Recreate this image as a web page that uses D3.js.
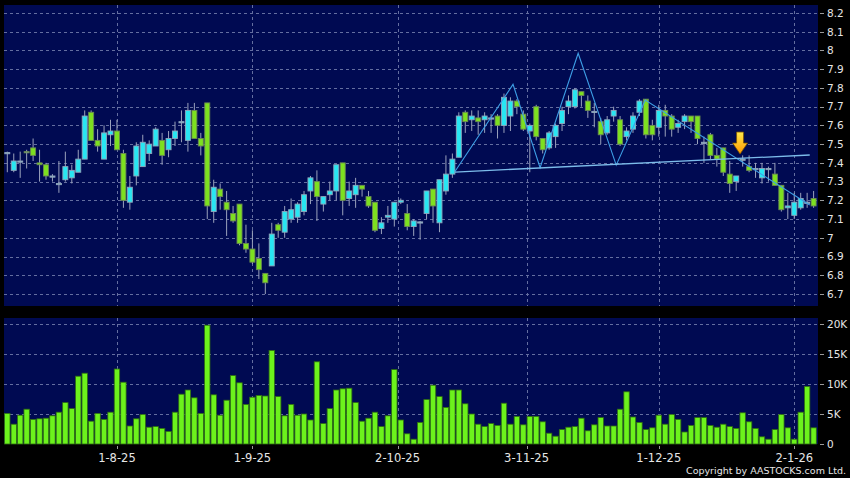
<!DOCTYPE html>
<meta charset="utf-8">
<body>
    <div id="chart"></div>
</body>
<script src="https://cdn.jsdelivr.net/npm/d3@7"></script>
<style>
    body { margin: 0; background: #000; }
    text { font-family: "DejaVu Sans", sans-serif; fill: #e6e6e6; }
</style>
<script>
    // daily bars, oldest first
    var opens = [7.45, 7.36, 7.41, 7.46, 7.48, 7.40, 7.39, 7.33, 7.29, 7.31,
        7.32, 7.35, 7.42, 7.67, 7.52, 7.42, 7.55, 7.57, 7.45, 7.19,
        7.33, 7.38, 7.45, 7.49, 7.52, 7.47, 7.53, 7.615, 7.52, 7.68,
        7.53, 7.72, 7.14, 7.26, 7.19, 7.13, 7.18, 6.97, 6.94, 6.89,
        6.81, 6.85, 7.07, 7.03, 7.10, 7.11, 7.14, 7.25, 7.30, 7.18,
        7.23, 7.25, 7.40, 7.21, 7.23, 7.28, 7.22, 7.19, 7.05, 7.11,
        7.10, 7.19, 7.13, 7.06, 7.08, 7.13, 7.26, 7.08, 7.25, 7.34,
        7.43, 7.67, 7.63, 7.64, 7.63, 7.64, 7.65, 7.60, 7.65, 7.73,
        7.66, 7.57, 7.70, 7.53, 7.48, 7.54, 7.61, 7.70, 7.70, 7.78,
        7.73, 7.67, 7.62, 7.56, 7.65, 7.63, 7.54, 7.58, 7.67, 7.74,
        7.60, 7.59, 7.68, 7.65, 7.59, 7.62, 7.65, 7.65, 7.51, 7.55,
        7.44, 7.48, 7.34, 7.30, 7.42, 7.38, 7.37, 7.32, 7.37, 7.34,
        7.28, 7.16, 7.12, 7.16, 7.19, 7.21];
    var highs = [7.46, 7.45, 7.46, 7.47, 7.53, 7.47, 7.40, 7.34, 7.41, 7.46,
        7.39, 7.47, 7.68, 7.68, 7.58, 7.60, 7.63, 7.63, 7.47, 7.33,
        7.51, 7.55, 7.52, 7.59, 7.56, 7.57, 7.62, 7.68, 7.72, 7.72,
        7.56, 7.72, 7.31, 7.29, 7.25, 7.17, 7.18, 7.07, 7.04, 6.97,
        6.81, 7.08, 7.08, 7.17, 7.21, 7.19, 7.25, 7.33, 7.36, 7.22,
        7.30, 7.39, 7.40, 7.30, 7.32, 7.28, 7.25, 7.19, 7.11, 7.17,
        7.19, 7.21, 7.18, 7.10, 7.09, 7.25, 7.26, 7.31, 7.44, 7.45,
        7.67, 7.68, 7.68, 7.68, 7.67, 7.66, 7.66, 7.77, 7.75, 7.74,
        7.68, 7.61, 7.71, 7.53, 7.57, 7.61, 7.70, 7.76, 7.80, 7.78,
        7.76, 7.72, 7.64, 7.65, 7.70, 7.65, 7.59, 7.67, 7.74, 7.74,
        7.63, 7.71, 7.71, 7.66, 7.63, 7.66, 7.65, 7.65, 7.54, 7.56,
        7.48, 7.48, 7.41, 7.33, 7.44, 7.44, 7.40, 7.40, 7.38, 7.40,
        7.28, 7.24, 7.24, 7.24, 7.24, 7.25];
    var lows = [7.35, 7.35, 7.32, 7.37, 7.41, 7.30, 7.31, 7.30, 7.24, 7.30,
        7.29, 7.35, 7.42, 7.52, 7.46, 7.42, 7.49, 7.47, 7.16, 7.15,
        7.28, 7.38, 7.41, 7.49, 7.39, 7.43, 7.49, 7.51, 7.46, 7.53,
        7.44, 7.10, 7.08, 7.15, 7.01, 7.08, 6.96, 6.92, 6.86, 6.78,
        6.70, 6.85, 7.00, 7.00, 7.08, 7.08, 7.12, 7.18, 7.09, 7.14,
        7.20, 7.20, 7.12, 7.17, 7.16, 7.22, 7.16, 7.03, 7.02, 7.08,
        7.06, 7.18, 7.04, 7.01, 6.99, 7.10, 7.08, 7.03, 7.23, 7.32,
        7.43, 7.56, 7.57, 7.55, 7.56, 7.56, 7.53, 7.56, 7.57, 7.66,
        7.57, 7.35, 7.52, 7.45, 7.47, 7.48, 7.57, 7.66, 7.69, 7.70,
        7.64, 7.59, 7.50, 7.55, 7.62, 7.49, 7.52, 7.56, 7.65, 7.53,
        7.52, 7.54, 7.54, 7.54, 7.56, 7.58, 7.56, 7.50, 7.40, 7.42,
        7.38, 7.33, 7.24, 7.25, 7.38, 7.35, 7.32, 7.29, 7.30, 7.28,
        7.14, 7.10, 7.10, 7.15, 7.16, 7.16];
    var closes = [7.455, 7.41, 7.41, 7.455, 7.44, 7.39, 7.33, 7.33, 7.29, 7.38,
        7.36, 7.42, 7.65, 7.52, 7.49, 7.56, 7.57, 7.47, 7.20, 7.27,
        7.49, 7.51, 7.50, 7.58, 7.44, 7.53, 7.57, 7.62, 7.68, 7.53,
        7.49, 7.17, 7.27, 7.22, 7.15, 7.09, 6.97, 6.94, 6.87, 6.83,
        6.76, 7.02, 7.04, 7.14, 7.15, 7.18, 7.23, 7.32, 7.22, 7.22,
        7.25, 7.39, 7.20, 7.25, 7.28, 7.26, 7.17, 7.04, 7.08, 7.12,
        7.19, 7.20, 7.06, 7.09, 7.085, 7.25, 7.17, 7.31, 7.34, 7.42,
        7.65, 7.62, 7.65, 7.62, 7.65, 7.64, 7.60, 7.75, 7.73, 7.70,
        7.58, 7.60, 7.54, 7.47, 7.56, 7.60, 7.68, 7.73, 7.79, 7.76,
        7.68, 7.675, 7.55, 7.63, 7.68, 7.50, 7.57, 7.65, 7.73, 7.55,
        7.55, 7.68, 7.65, 7.58, 7.61, 7.65, 7.62, 7.53, 7.51, 7.44,
        7.42, 7.35, 7.29, 7.33, 7.42, 7.36, 7.37, 7.37, 7.37, 7.28,
        7.15, 7.17, 7.19, 7.21, 7.19, 7.17];
    // volume in thousands of shares
    var volumes = [5.1, 3.3, 4.8, 5.8, 4.1, 4.2, 4.3, 4.7, 5.3, 6.9,
        5.9, 11.3, 11.8, 3.8, 5.1, 4.1, 5.3, 12.5, 10.3, 3.0,
        4.2, 4.9, 2.8, 2.9, 2.6, 2.1, 5.3, 8.3, 9.0, 7.7,
        5.1, 19.8, 8.2, 4.8, 7.3, 11.4, 10.2, 6.6, 7.8, 8.1,
        8.0, 15.6, 7.9, 4.7, 6.6, 4.8, 5.0, 4.0, 13.7, 3.4,
        5.9, 9.0, 9.2, 9.3, 6.9, 3.8, 4.3, 5.3, 2.9, 4.7,
        12.4, 4.0, 1.7, 0.8, 3.6, 7.4, 9.8, 7.9, 6.1, 9.0,
        9.0, 6.7, 5.0, 3.3, 2.9, 3.4, 3.1, 6.8, 3.3, 4.6,
        3.2, 4.6, 4.6, 3.7, 1.8, 1.3, 2.4, 2.8, 2.9, 4.3,
        2.2, 3.2, 4.4, 3.0, 3.0, 5.8, 8.7, 4.5, 3.6, 2.4,
        2.7, 4.8, 3.3, 4.9, 4.1, 2.0, 3.1, 4.4, 4.4, 3.1,
        2.8, 3.3, 2.9, 2.6, 5.2, 3.7, 2.6, 1.2, 0.8, 2.4,
        4.9, 2.7, 0.8, 5.3, 9.6, 2.7];

    var dateTicks = [17, 38, 60.5, 80.5, 101, 122];   // bar position of each date label
    var dateLabels = ["1-8-25", "1-9-25", "2-10-25", "3-11-25", "1-12-25", "2-1-26"];
    var priceTicks = [6.7, 6.8, 6.9, 7, 7.1, 7.2, 7.3, 7.4, 7.5, 7.6, 7.7, 7.8, 7.9, 8, 8.1, 8.2];
    var volTicks = [0, 5, 10, 15, 20];
    var volLabels = ["0", "5K", "10K", "15K", "20K"];

    // drawn pattern lines: [bar position, price]
    var zigzag = [[69.4, 7.354], [78.4, 7.819], [82.6, 7.374], [88.5, 7.985],
        [94.4, 7.388], [98.9, 7.735], [124.4, 7.175]];
    var neckline = [[69.4, 7.351], [124.4, 7.442]];
    var arrowAt = [113.6, 7.447];

    var width = 850,
        height = 478;
    var left = 4, right = 818;

    var svg = d3.select("#chart")
        .append("svg")
            .attr("width", width)
            .attr("height", height)
            .style("background", "#000");

    var x = d3.scaleLinear().domain([0, closes.length - 1]).range([7.3, 813.6]);
    var y = d3.scaleLinear().domain([6.7, 8.2]).range([294, 13]);
    var yv = d3.scaleLinear().domain([0, 20]).range([444, 324]);

    var panelColor = "#000a52";
    var gridColor = "#646ea0";

    // panels
    svg.append("rect").attr("x", left).attr("y", 5)
        .attr("width", right - left).attr("height", 301).attr("fill", panelColor);
    svg.append("rect").attr("x", left).attr("y", 318)
        .attr("width", right - left).attr("height", 126).attr("fill", panelColor);

    var grid = svg.append("g")
        .attr("stroke", gridColor)
        .attr("stroke-width", 1)
        .attr("stroke-dasharray", "3,3");

    grid.selectAll(".hp").data(priceTicks).enter().append("line")
        .attr("x1", left).attr("x2", right)
        .attr("y1", function(d) { return Math.round(y(d)) + 0.5; })
        .attr("y2", function(d) { return Math.round(y(d)) + 0.5; });

    grid.selectAll(".hv").data(volTicks.slice(1)).enter().append("line")
        .attr("x1", left).attr("x2", right)
        .attr("y1", function(d) { return Math.round(yv(d)) + 0.5; })
        .attr("y2", function(d) { return Math.round(yv(d)) + 0.5; });

    grid.selectAll(".vp").data(dateTicks).enter().append("line")
        .attr("x1", function(d) { return Math.round(x(d)) + 0.5; })
        .attr("x2", function(d) { return Math.round(x(d)) + 0.5; })
        .attr("y1", 5).attr("y2", 306);

    grid.selectAll(".vv").data(dateTicks).enter().append("line")
        .attr("x1", function(d) { return Math.round(x(d)) + 0.5; })
        .attr("x2", function(d) { return Math.round(x(d)) + 0.5; })
        .attr("y1", 318).attr("y2", 444);

    // volume bars
    svg.append("g").selectAll("rect")
        .data(volumes).enter().append("rect")
            .attr("x", function(d, i) { return x(i) - 2.7; })
            .attr("y", function(d) { return yv(d); })
            .attr("width", 5.4)
            .attr("height", function(d) { return yv(0) - yv(d); })
            .attr("fill", "#6cf21c")
            .attr("stroke", "#2f6e12")
            .attr("stroke-width", 0.8);

    // candles
    var candles = svg.append("g").selectAll("g")
        .data(closes).enter().append("g");

    candles.append("line")
        .attr("x1", function(d, i) { return x(i); })
        .attr("x2", function(d, i) { return x(i); })
        .attr("y1", function(d, i) { return y(highs[i]); })
        .attr("y2", function(d, i) { return y(lows[i]); })
        .attr("stroke", "#9aa2bc")
        .attr("stroke-width", 1);

    candles.append("rect")
        .attr("x", function(d, i) { return x(i) - 2.5; })
        .attr("y", function(d, i) { return y(Math.max(opens[i], d)); })
        .attr("width", 5)
        .attr("height", function(d, i) { return Math.max(1.2, Math.abs(y(opens[i]) - y(d))); })
        .attr("fill", function(d, i) {
            if (Math.abs(d - opens[i]) < 0.006) { return "#8fb0c8"; }
            return d > opens[i] ? "#28e6f2" : "#7de020";
        })
        .attr("stroke", function(d, i) { return d >= opens[i] ? "#8fa6bc" : "#6a8a52"; })
        .attr("stroke-width", 0.9);

    // pattern lines
    var line = d3.line()
        .x(function(d) { return x(d[0]); })
        .y(function(d) { return y(d[1]); });

    svg.append("path").datum(zigzag)
        .attr("d", line).attr("fill", "none")
        .attr("stroke", "#3d9fe6").attr("stroke-width", 1.1);

    svg.append("path").datum(neckline)
        .attr("d", line).attr("fill", "none")
        .attr("stroke", "#7cbcea").attr("stroke-width", 1.3);

    // arrow
    var grad = svg.append("defs").append("linearGradient")
        .attr("id", "arrowGrad").attr("x1", 0).attr("y1", 0).attr("x2", 0).attr("y2", 1);
    grad.append("stop").attr("offset", "0%").attr("stop-color", "#ffe84a");
    grad.append("stop").attr("offset", "100%").attr("stop-color", "#ff9800");

    svg.append("path")
        .attr("transform", "translate(" + x(arrowAt[0]) + "," + y(arrowAt[1]) + ")")
        .attr("d", "M-3.5,-22 L3.5,-22 L3.5,-11 L7.5,-11 L0,0 L-7.5,-11 L-3.5,-11 Z")
        .attr("fill", "url(#arrowGrad)")
        .attr("stroke", "#7a5200")
        .attr("stroke-width", 0.8);

    // right axes
    var axisG = svg.append("g");
    axisG.selectAll(".pt").data(priceTicks).enter().append("line")
        .attr("x1", 820).attr("x2", 824)
        .attr("y1", function(d) { return Math.round(y(d)) + 0.5; })
        .attr("y2", function(d) { return Math.round(y(d)) + 0.5; })
        .attr("stroke", "#9a9a9a");
    axisG.selectAll(".pl").data(priceTicks).enter().append("text")
        .attr("x", 827)
        .attr("y", function(d) { return y(d); })
        .attr("dy", "0.36em")
        .attr("font-size", 10.5)
        .text(function(d) { return d3.format("")(d); });

    axisG.selectAll(".vt").data(volTicks).enter().append("line")
        .attr("x1", 820).attr("x2", 824)
        .attr("y1", function(d) { return Math.round(yv(d)) + 0.5; })
        .attr("y2", function(d) { return Math.round(yv(d)) + 0.5; })
        .attr("stroke", "#9a9a9a");
    axisG.selectAll(".vl").data(volTicks).enter().append("text")
        .attr("x", 827)
        .attr("y", function(d) { return yv(d); })
        .attr("dy", "0.36em")
        .attr("font-size", 10.5)
        .text(function(d, i) { return volLabels[i]; });

    // date axis
    axisG.selectAll(".dt").data(dateTicks).enter().append("line")
        .attr("x1", function(d) { return Math.round(x(d)) + 0.5; })
        .attr("x2", function(d) { return Math.round(x(d)) + 0.5; })
        .attr("y1", 446).attr("y2", 449)
        .attr("stroke", "#9a9a9a");
    axisG.selectAll(".dl").data(dateTicks).enter().append("text")
        .attr("x", function(d) { return x(d); })
        .attr("y", 462)
        .attr("text-anchor", "middle")
        .attr("font-size", 11.5)
        .text(function(d, i) { return dateLabels[i]; });

    svg.append("text")
        .attr("x", 846).attr("y", 474)
        .attr("text-anchor", "end")
        .attr("font-size", 9.5)
        .text("Copyright by AASTOCKS.com Ltd.");
</script>
